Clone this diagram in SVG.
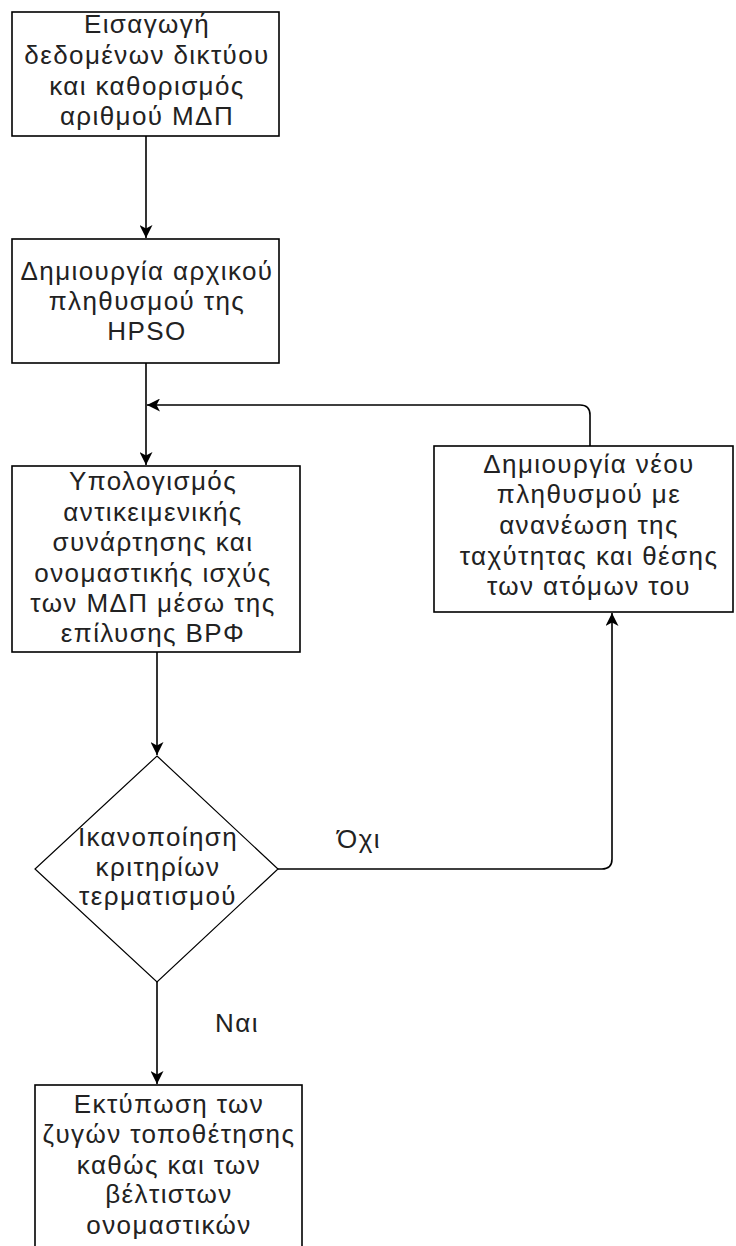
<svg xmlns="http://www.w3.org/2000/svg" width="736" height="1246" viewBox="0 0 736 1246">
<style>
.box{fill:#fff;stroke:#000;stroke-width:1.6}
.dia{fill:#fff;stroke:#000;stroke-width:1.2}
.t{font-family:"Liberation Sans",Arial,sans-serif;font-size:26px;fill:#222;text-anchor:middle;letter-spacing:1.4px}
.c{fill:none;stroke:#000;stroke-width:1.6}
</style>
<defs>
<marker id="ah" viewBox="0 0 13 13" refX="13" refY="6.5" markerWidth="13" markerHeight="13" markerUnits="userSpaceOnUse" orient="auto">
<path d="M0,0 L13,6.5 L0,13 L3.5,6.5 Z" fill="#000"/>
</marker>
</defs>
<rect width="736" height="1246" fill="#fff"/>
<g id="connectors">
<path class="c" d="M146,136 V238" marker-end="url(#ah)"/>
<path class="c" d="M146,363 V465" marker-end="url(#ah)"/>
<path class="c" d="M590,446 V415 Q590,405 580,405 H147" marker-end="url(#ah)"/>
<path class="c" d="M157,652 V755" marker-end="url(#ah)"/>
<path class="c" d="M278,869 H602 Q612,869 612,859 V613" marker-end="url(#ah)"/>
<path class="c" d="M157,982 V1084" marker-end="url(#ah)"/>
<text class="t" x="359" y="848">Όχι</text>
<text class="t" x="237" y="1032">Ναι</text>
</g>
<g id="n1">
<rect class="box" x="12" y="12" width="267" height="124"/>
<text class="t" x="147" y="33">Εισαγωγή</text>
<text class="t" x="147" y="64">δεδομένων δικτύου</text>
<text class="t" x="147" y="95">και καθορισμός</text>
<text class="t" x="147" y="125">αριθμού ΜΔΠ</text>
</g>
<g id="n2">
<rect class="box" x="12" y="239" width="267" height="124"/>
<text class="t" x="147" y="280">Δημιουργία αρχικού</text>
<text class="t" x="147" y="310">πληθυσμού της</text>
<text class="t" x="147" y="340">HPSO</text>
</g>
<g id="n3">
<rect class="box" x="12" y="466" width="288" height="186"/>
<text class="t" x="153" y="490">Υπολογισμός</text>
<text class="t" x="153" y="521">αντικειμενικής</text>
<text class="t" x="153" y="551">συνάρτησης και</text>
<text class="t" x="153" y="582">ονομαστικής ισχύς</text>
<text class="t" x="153" y="612">των ΜΔΠ μέσω της</text>
<text class="t" x="153" y="642">επίλυσης ΒΡΦ</text>
</g>
<g id="n4">
<rect class="box" x="434" y="446" width="299" height="166"/>
<text class="t" x="589" y="473">Δημιουργία νέου</text>
<text class="t" x="589" y="503">πληθυσμού με</text>
<text class="t" x="589" y="534">ανανέωση της</text>
<text class="t" x="589" y="565">ταχύτητας και θέσης</text>
<text class="t" x="589" y="595">των ατόμων του</text>
</g>
<g id="n5">
<polygon class="dia" points="157,756 278,869 157,982 35,869"/>
<text class="t" x="158" y="846">Ικανοποίηση</text>
<text class="t" x="158" y="876">κριτηρίων</text>
<text class="t" x="158" y="905">τερματισμού</text>
</g>
<g id="n6">
<rect class="box" x="35" y="1085" width="267" height="180"/>
<text class="t" x="169" y="1113">Εκτύπωση των</text>
<text class="t" x="169" y="1143">ζυγών τοποθέτησης</text>
<text class="t" x="169" y="1174">καθώς και των</text>
<text class="t" x="169" y="1203">βέλτιστων</text>
<text class="t" x="169" y="1234">ονομαστικών</text>
</g>
</svg>
